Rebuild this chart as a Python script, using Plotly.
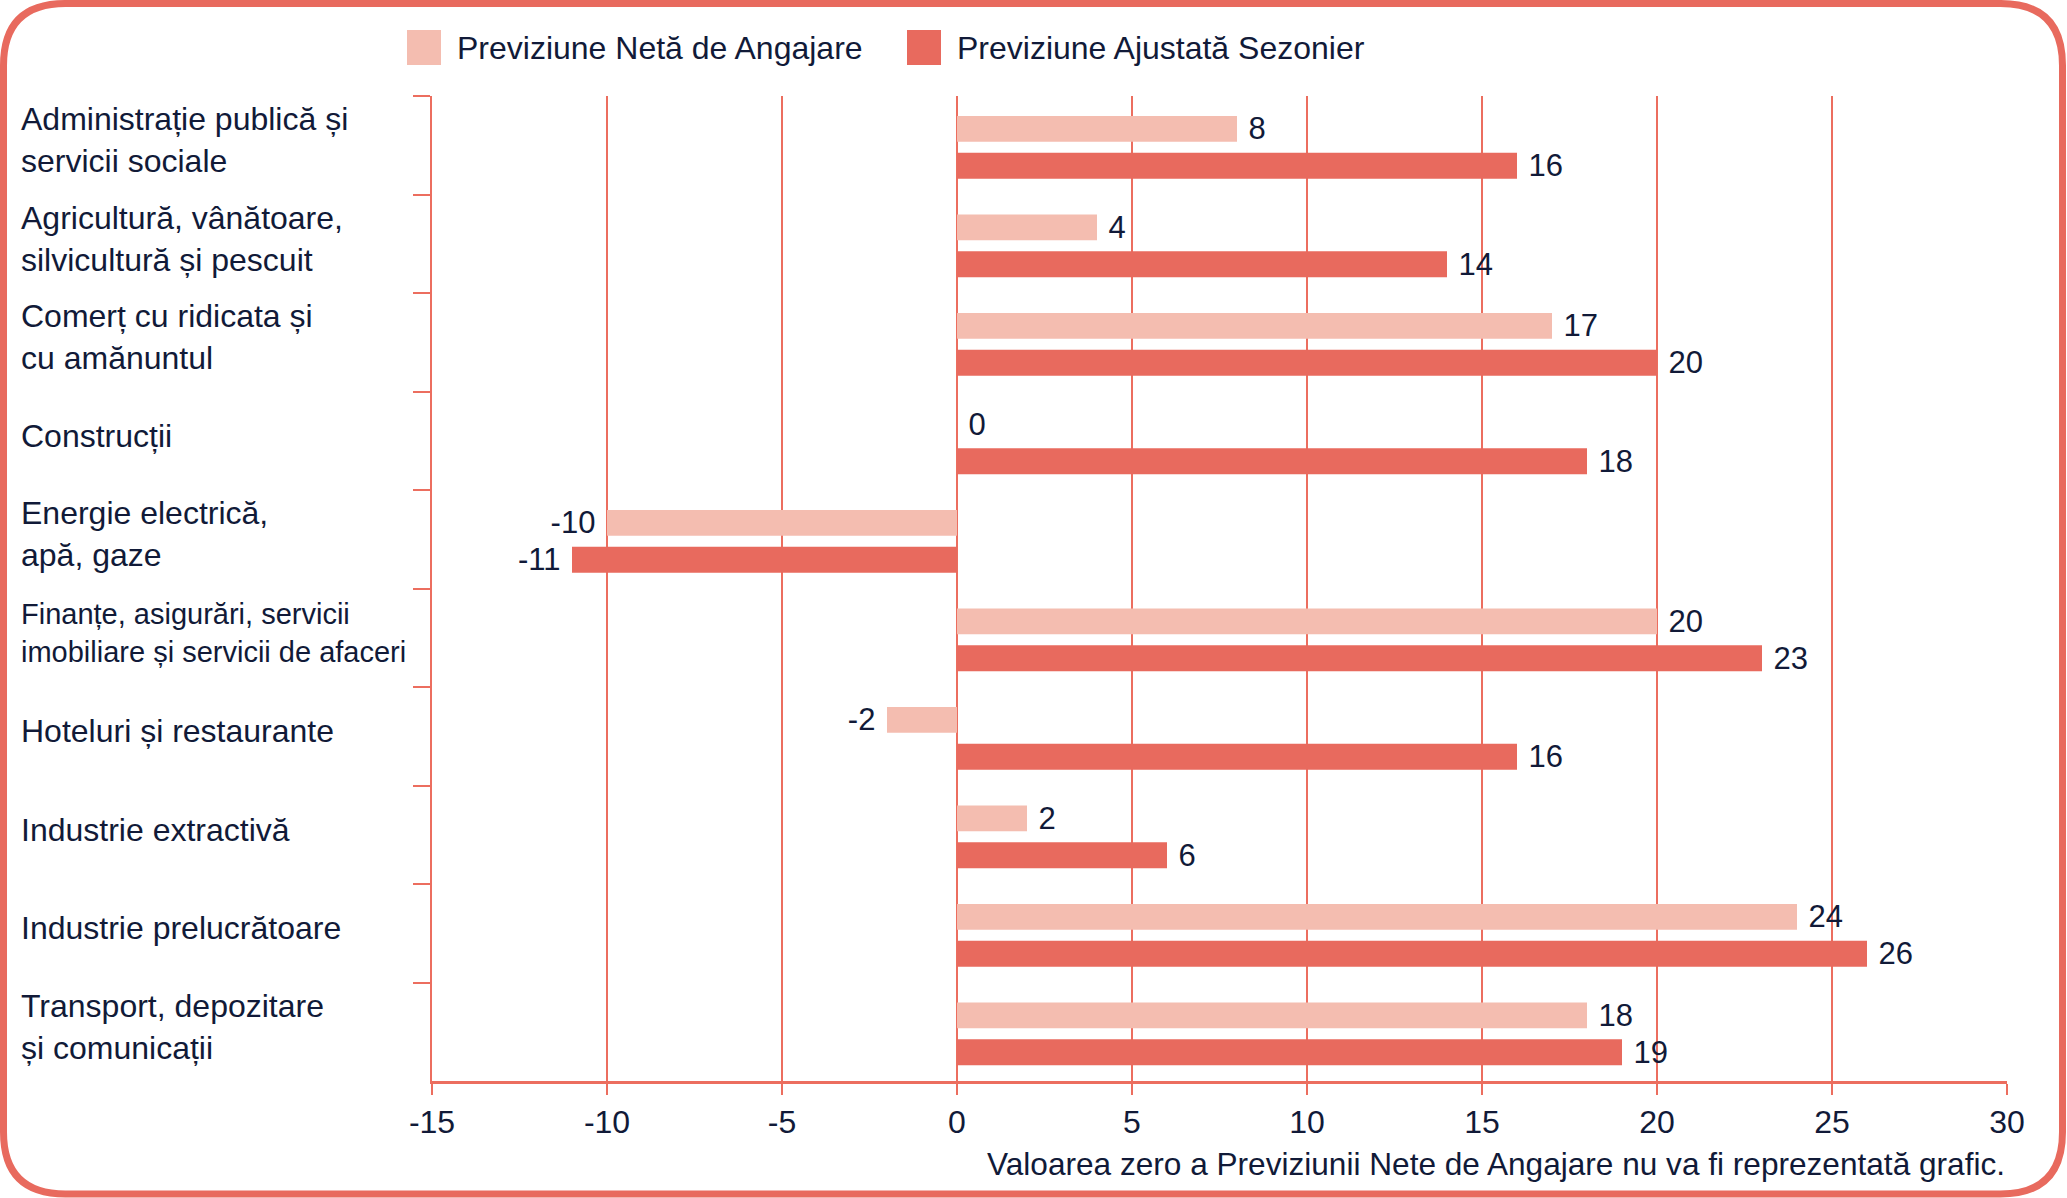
import plotly.graph_objects as go

# ---------------- data ----------------
categories = [
    "Administrație publică și<br>servicii sociale",
    "Agricultură, vânătoare,<br>silvicultură și pescuit",
    "Comerț cu ridicata și<br>cu amănuntul",
    "Construcții",
    "Energie electrică,<br>apă, gaze",
    "Finanțe, asigurări, servicii<br>imobiliare și servicii de afaceri",
    "Hoteluri și restaurante",
    "Industrie extractivă",
    "Industrie prelucrătoare",
    "Transport, depozitare<br>și comunicații",
]
neta = [8, 4, 17, 0, -10, 20, -2, 2, 24, 18]
ajustata = [16, 14, 20, 18, -11, 23, 16, 6, 26, 19]
series_names = ["Previziune Netă de Angajare", "Previziune Ajustată Sezonier"]
x_ticks = [-15, -10, -5, 0, 5, 10, 15, 20, 25, 30]
footnote = "Valoarea zero a Previziunii Nete de Angajare nu va fi reprezentată grafic."

# ---------------- style ----------------
W, H = 2067, 1198
L, R, T, B = 432, 2007, 96, 1081
LIGHT = "#F4BDB0"
DARK = "#E86A5E"
LINE = "#EC6E5F"
TEXT = "#111a38"
FONT = "Liberation Sans, Arial, Helvetica, sans-serif"
FS = 31
BAR_W = 0.262
OFFSETS = [-0.297, 0.077]


def px(x, y):
    return (x - L) / (R - L), (B - y) / (B - T)


def labels(vals):
    return [("%d\u00a0" % v) if v < 0 else ("\u00a0%d" % v) for v in vals]


fig = go.Figure()
for vals, name, color, off in [(neta, series_names[0], LIGHT, OFFSETS[0]),
                               (ajustata, series_names[1], DARK, OFFSETS[1])]:
    fig.add_trace(go.Bar(
        y=categories, x=vals, name=name, orientation="h",
        width=BAR_W, offset=off,
        marker=dict(color=color, line=dict(width=0)),
        text=labels(vals), texttemplate="%{text}", textposition="outside",
        textfont=dict(family=FONT, size=FS, color=TEXT),
        constraintext="none", cliponaxis=False, showlegend=False,
    ))

shapes = []
annotations = []

# rounded border
x0, y0, x1, y1, r = 3.5, 3.5, 2062.5, 1194, 62
pts = [
    ("M", [(x0 + r, y0)]), ("L", [(x1 - r, y0)]), ("Q", [(x1, y0), (x1, y0 + r)]),
    ("L", [(x1, y1 - r)]), ("Q", [(x1, y1), (x1 - r, y1)]), ("L", [(x0 + r, y1)]),
    ("Q", [(x0, y1), (x0, y1 - r)]), ("L", [(x0, y0 + r)]), ("Q", [(x0, y0), (x0 + r, y0)]),
]
path = ""
for cmd, ps in pts:
    path += cmd + " " + " ".join("%.5f,%.5f" % px(a, b) for a, b in ps) + " "
path += "Z"
shapes.append(dict(type="path", xref="paper", yref="paper", path=path,
                   line=dict(color=DARK, width=7), layer="below"))

# legend (manual, large swatches)
for (sx, tx), name, color in [((407, 455), series_names[0], LIGHT), ((907, 955), series_names[1], DARK)]:
    ax0, ay0 = px(sx, 65)
    ax1, ay1 = px(sx + 34, 30)
    shapes.append(dict(type="rect", xref="paper", yref="paper", x0=ax0, y0=ay0, x1=ax1, y1=ay1,
                       fillcolor=color, line=dict(width=0)))
    lx, ly = px(tx, 47.5)
    annotations.append(dict(xref="paper", yref="paper", x=lx, y=ly, xanchor="left", yanchor="middle",
                            text=name, showarrow=False, font=dict(family=FONT, size=32, color=TEXT)))

# category labels (left aligned)
cx, _ = px(18.5, 0)
for c in categories:
    size = 29 if len(c) > 50 else 32
    annotations.append(dict(xref="paper", yref="y", x=cx, y=c, xanchor="left", yanchor="middle",
                            align="left", text=c, showarrow=False, yshift=5,
                            font=dict(family=FONT, size=size, color=TEXT)))

# footnote
fx, fy = px(R, 1164)
annotations.append(dict(xref="paper", yref="paper", x=1, y=fy, xanchor="right", yanchor="middle",
                        text=footnote, showarrow=False, font=dict(family=FONT, size=31.6, color=TEXT)))

fig.update_layout(
    width=W, height=H,
    margin=dict(l=L, r=W - R, t=T, b=H - B, pad=0),
    paper_bgcolor="white", plot_bgcolor="white",
    barmode="overlay",
    font=dict(family=FONT, size=FS, color=TEXT),
    showlegend=False,
    shapes=shapes, annotations=annotations,
    xaxis=dict(
        range=[-15, 30], tickmode="array", tickvals=x_ticks, ticktext=[str(v) for v in x_ticks],
        showgrid=True, gridcolor=LINE, gridwidth=1.5, zeroline=False,
        ticks="outside", ticklen=11, tickcolor=LINE, tickwidth=1.5,
        showline=True, linecolor=LINE, linewidth=3,
        tickfont=dict(family=FONT, size=32, color=TEXT), fixedrange=True,
    ),
    yaxis=dict(
        type="category", categoryorder="array", categoryarray=categories, autorange="reversed",
        showticklabels=False, showgrid=False, zeroline=False,
        tickson="boundaries", ticks="outside", ticklen=17, tickcolor=LINE, tickwidth=2,
        showline=True, linecolor=LINE, linewidth=2, fixedrange=True,
    ),
)

fig.write_html(
    "out.html",
    config={"displayModeBar": False},
    post_script="document.body.style.margin='0';document.body.style.overflow='hidden';",
)
